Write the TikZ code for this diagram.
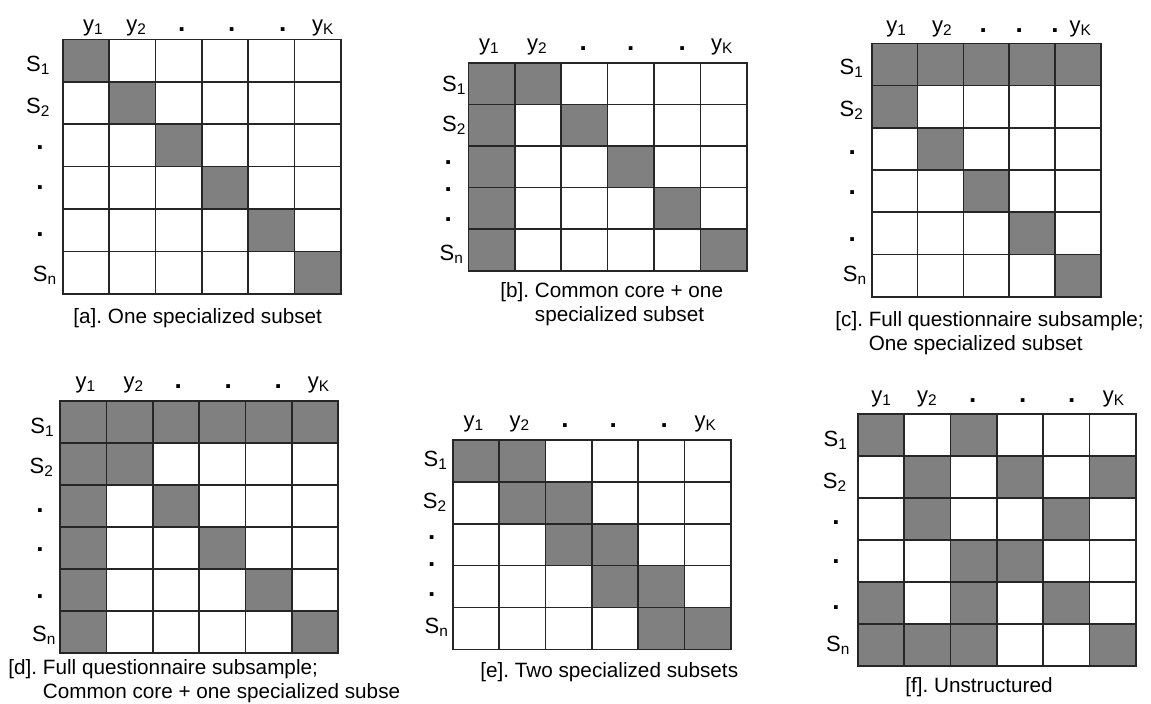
\documentclass[tikz,border=0pt]{standalone}
\usepackage{fontspec}
\setmainfont{Liberation Sans}
\frenchspacing
\definecolor{cellgray}{RGB}{128,128,128}
\tikzset{
  gridln/.style={draw=black!85,line width=0.8pt},
  cellfill/.style={fill=cellgray},
  lbl/.style={anchor=base,inner sep=0pt,font=\fontsize{11}{13}\selectfont},
  dotlbl/.style={lbl,font=\fontsize{13}{13}\selectfont\bfseries},
  caplbl/.style={anchor=base west,inner sep=0pt,align=left,font=\fontsize{10.35}{12}\selectfont}
}
\begin{document}
\begin{tikzpicture}[x=0.5pt,y=-0.5pt]
  \useasboundingbox (0,0) rectangle (1151,703);

  % Grid a: one specialized subset
  \begin{scope}[shift={(62.7,39.3)},x=23.17pt,y=-21.22pt]
    \foreach \c/\r in {1/1,2/2,3/3,4/4,5/5,6/6}
      \fill[cellfill] (\c-1,\r-1) rectangle (\c,\r);
    \foreach \i in {1,...,5} \draw[gridln] (\i,0) -- (\i,6);
    \foreach \j in {1,...,5} \draw[gridln] (0,\j) -- (6,\j);
    \draw[gridln] (0,0) rectangle (6,6);
  \end{scope}
  \foreach \lx/\sub in {93.3/1,136.7/2,323.3/K}
    \node[lbl] (a-y\sub) at (\lx,31) {y\textsubscript{\sub}};
  \foreach \lx [count=\k] in {181.7,231.7,282.7}
    \node[dotlbl] (a-cd\k) at (\lx,31) {.};
  \foreach \lx/\ly/\sub in {38.3/71.7/1,38.3/113.3/2,45/281.7/n}
    \node[lbl] (a-s\sub) at (\lx,\ly) {S\textsubscript{\sub}};
  \foreach \ly [count=\k] in {149.8,189.8,236.5}
    \node[dotlbl] (a-rd\k) at (40,\ly) {.};
  \node[caplbl] (a-cap) at (73,323.3) {[a]. One specialized subset};

  % Grid b: common core + one specialized subset
  \begin{scope}[shift={(468.3,62.7)},x=23.2pt,y=-20.8pt]
    \foreach \c/\r in {1/1,2/1,1/2,3/2,1/3,4/3,1/4,5/4,1/5,6/5}
      \fill[cellfill] (\c-1,\r-1) rectangle (\c,\r);
    \foreach \i in {1,...,5} \draw[gridln] (\i,0) -- (\i,5);
    \foreach \j in {1,...,4} \draw[gridln] (0,\j) -- (6,\j);
    \draw[gridln] (0,0) rectangle (6,5);
  \end{scope}
  \foreach \lx/\sub in {489.4/1,537.3/2,722.3/K}
    \node[lbl] (b-y\sub) at (\lx,50.4) {y\textsubscript{\sub}};
  \foreach \lx [count=\k] in {583.3,630.7,682.3}
    \node[dotlbl] (b-cd\k) at (\lx,50.4) {.};
  \foreach \lx/\ly/\sub in {454.2/91.7/1,454.2/131.7/2,451.7/260/n}
    \node[lbl] (b-s\sub) at (\lx,\ly) {S\textsubscript{\sub}};
  \foreach \ly [count=\k] in {164.8,191.5,221.5}
    \node[dotlbl] (b-rd\k) at (448.3,\ly) {.};
  % two-line captions: base is the second line
  \node[caplbl] (b-cap) at (500,321)
    {[b]. Common core + one\\\hphantom{[b]. }specialized subset};

  % Grid c: full questionnaire subsample, one specialized subset
  \begin{scope}[shift={(871.7,43.3)},x=22.9pt,y=-21.12pt]
    \foreach \c/\r in {1/1,2/1,3/1,4/1,5/1,1/2,2/3,3/4,4/5,5/6}
      \fill[cellfill] (\c-1,\r-1) rectangle (\c,\r);
    \foreach \i in {1,...,4} \draw[gridln] (\i,0) -- (\i,6);
    \foreach \j in {1,...,5} \draw[gridln] (0,\j) -- (5,\j);
    \draw[gridln] (0,0) rectangle (5,6);
  \end{scope}
  \foreach \lx/\sub in {896.7/1,942.5/2,1080.7/K}
    \node[lbl] (c-y\sub) at (\lx,32) {y\textsubscript{\sub}};
  \foreach \lx [count=\k] in {983.3,1019.3,1055}
    \node[dotlbl] (c-cd\k) at (\lx,32) {.};
  \foreach \lx/\ly/\sub in {851.7/74/1,851.7/116.7/2,855/281.7/n}
    \node[lbl] (c-s\sub) at (\lx,\ly) {S\textsubscript{\sub}};
  \foreach \ly [count=\k] in {154.8,194.8,241.5}
    \node[dotlbl] (c-rd\k) at (852.3,\ly) {.};
  \node[caplbl] (c-cap) at (835,350)
    {[c]. Full questionnaire subsample;\\\hphantom{[c]. }One specialized subset};

  % Grid d: full questionnaire subsample, common core + one specialized subset
  \begin{scope}[shift={(60,400.7)},x=23.19pt,y=-21pt]
    \foreach \c/\r in {1/1,2/1,3/1,4/1,5/1,6/1,1/2,1/3,1/4,1/5,1/6,2/2,3/3,4/4,5/5,6/6}
      \fill[cellfill] (\c-1,\r-1) rectangle (\c,\r);
    \foreach \i in {1,...,5} \draw[gridln] (\i,0) -- (\i,6);
    \foreach \j in {1,...,5} \draw[gridln] (0,\j) -- (6,\j);
    \draw[gridln] (0,0) rectangle (6,6);
  \end{scope}
  \foreach \lx/\sub in {85.8/1,134/2,319/K}
    \node[lbl] (d-y\sub) at (\lx,388.7) {y\textsubscript{\sub}};
  \foreach \lx [count=\k] in {178.3,228.3,278.3}
    \node[dotlbl] (d-cd\k) at (\lx,388.7) {.};
  \foreach \lx/\ly/\sub in {42.5/433.3/1,41.7/473.3/2,44.2/641.7/n}
    \node[lbl] (d-s\sub) at (\lx,\ly) {S\textsubscript{\sub}};
  \foreach \ly [count=\k] in {512.2,551.5,598.2}
    \node[dotlbl] (d-rd\k) at (40,\ly) {.};
  \node[caplbl] (d-cap) at (8,698.5)
    {[d]. Full questionnaire subsample;\\\hphantom{[d]. }Common core + one specialized subse};

  % Grid e: two specialized subsets
  \begin{scope}[shift={(452.7,440)},x=23.17pt,y=-20.93pt]
    \foreach \c/\r in {1/1,2/1,2/2,3/2,3/3,4/3,4/4,5/4,5/5,6/5}
      \fill[cellfill] (\c-1,\r-1) rectangle (\c,\r);
    \foreach \i in {1,...,5} \draw[gridln] (\i,0) -- (\i,5);
    \foreach \j in {1,...,4} \draw[gridln] (0,\j) -- (6,\j);
    \draw[gridln] (0,0) rectangle (6,5);
  \end{scope}
  \foreach \lx/\sub in {474/1,520/2,705.7/K}
    \node[lbl] (e-y\sub) at (\lx,427) {y\textsubscript{\sub}};
  \foreach \lx [count=\k] in {565,613.3,664.3}
    \node[dotlbl] (e-cd\k) at (\lx,427) {.};
  \foreach \lx/\ly/\sub in {435.8/466.7/1,435/508.3/2,436.7/633.3/n}
    \node[lbl] (e-s\sub) at (\lx,\ly) {S\textsubscript{\sub}};
  \foreach \ly [count=\k] in {539.8,566.5,596.5}
    \node[dotlbl] (e-rd\k) at (431.7,\ly) {.};
  \node[caplbl] (e-cap) at (480,677.3) {[e]. Two specialized subsets};

  % Grid f: unstructured
  \begin{scope}[shift={(857.7,414)},x=23.17pt,y=-21pt]
    \foreach \c/\r in {1/1,3/1,2/2,4/2,6/2,2/3,5/3,3/4,4/4,1/5,3/5,5/5,1/6,2/6,3/6,6/6}
      \fill[cellfill] (\c-1,\r-1) rectangle (\c,\r);
    \foreach \i in {1,...,5} \draw[gridln] (\i,0) -- (\i,6);
    \foreach \j in {1,...,5} \draw[gridln] (0,\j) -- (6,\j);
    \draw[gridln] (0,0) rectangle (6,6);
  \end{scope}
  \foreach \lx/\sub in {881.7/1,927.5/2,1114/K}
    \node[lbl] (f-y\sub) at (\lx,402) {y\textsubscript{\sub}};
  \foreach \lx [count=\k] in {972.7,1022.7,1071.7}
    \node[dotlbl] (f-cd\k) at (\lx,402) {.};
  \foreach \lx/\ly/\sub in {835.8/446.7/1,835/488.3/2,838.3/651.7/n}
    \node[lbl] (f-s\sub) at (\lx,\ly) {S\textsubscript{\sub}};
  \foreach \ly [count=\k] in {524.8,563.2,609.8}
    \node[dotlbl] (f-rd\k) at (836,\ly) {.};
  \node[caplbl] (f-cap) at (905,692.7) {[f]. Unstructured};
\end{tikzpicture}
\end{document}
